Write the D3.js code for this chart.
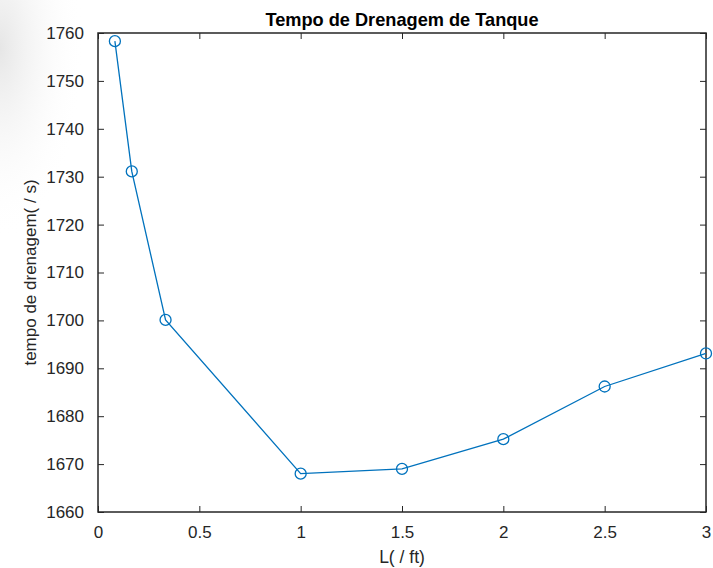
<!DOCTYPE html>
<html>
<head>
<meta charset="utf-8">
<script src="https://cdn.jsdelivr.net/npm/d3@7"></script>
<style>
  body { margin: 0; background: #fff; }
  svg { display: block; }
</style>
</head>
<body>
<svg width="713" height="568"></svg>
<script>
// comprimento L (ft) e tempo de drenagem (s)
var lengths = [1/12, 1/6, 1/3, 1, 1.5, 2, 2.5, 3];
var drainTimes = [1758.3, 1731.1, 1700.1, 1668.0, 1669.0, 1675.2, 1686.2, 1693.1];
var xTicks = [0, 0.5, 1, 1.5, 2, 2.5, 3];
var yTicks = [1660, 1670, 1680, 1690, 1700, 1710, 1720, 1730, 1740, 1750, 1760];

var svg = d3.select("svg"),
    margin = {top: 33, right: 7, bottom: 56, left: 98},
    width = +svg.attr("width") - margin.left - margin.right,
    height = +svg.attr("height") - margin.top - margin.bottom;

var font = "'Liberation Sans', Arial, sans-serif",
    ink = "#262626",
    lineColor = "#0072BD";

// faint grey shade at the top left, as in the screenshot
var defs = svg.append("defs");
var grad = defs.append("radialGradient")
    .attr("id", "shade")
    .attr("cx", "0").attr("cy", "0.15").attr("r", "0.6");
grad.append("stop").attr("offset", "0").attr("stop-color", "#e6e6e6");
grad.append("stop").attr("offset", "1").attr("stop-color", "#ffffff").attr("stop-opacity", 0);
svg.append("rect")
    .attr("x", 0).attr("y", 0)
    .attr("width", 140).attr("height", 320)
    .attr("fill", "url(#shade)");

var x = d3.scaleLinear().domain([0, 3]).range([0, width]);
var y = d3.scaleLinear().domain([1660, 1760]).range([height, 0]);

var g = svg.append("g")
    .attr("transform", "translate(" + margin.left + "," + margin.top + ")");

g.append("rect")
    .attr("width", width)
    .attr("height", height)
    .attr("fill", "#fff");

function styleAxis(sel) {
  sel.select(".domain").remove();
  sel.selectAll("line").attr("stroke", ink).attr("stroke-width", 1);
  sel.selectAll("text")
      .attr("fill", ink)
      .attr("font-family", font)
      .attr("font-size", 17);
}

// eixos com marcas para dentro (estilo MATLAB)
g.append("g")
    .attr("transform", "translate(0," + height + ")")
    .call(d3.axisBottom(x).tickValues(xTicks).tickSize(-6).tickPadding(14)
        .tickFormat(d3.format("")))
    .call(styleAxis);

g.append("g")
    .call(d3.axisTop(x).tickValues(xTicks).tickSize(-6).tickFormat(""))
    .call(styleAxis);

g.append("g")
    .call(d3.axisLeft(y).tickValues(yTicks).tickSize(-6).tickPadding(14)
        .tickFormat(d3.format("d")))
    .call(styleAxis);

g.append("g")
    .attr("transform", "translate(" + width + ",0)")
    .call(d3.axisRight(y).tickValues(yTicks).tickSize(-6).tickFormat(""))
    .call(styleAxis);

g.append("rect")
    .attr("width", width)
    .attr("height", height)
    .attr("fill", "none")
    .attr("stroke", ink)
    .attr("stroke-width", 1.5);

var pts = lengths.map(function(d, i) { return [d, drainTimes[i]]; });

g.append("path")
    .datum(pts)
    .attr("fill", "none")
    .attr("stroke", lineColor)
    .attr("stroke-width", 1.3)
    .attr("d", d3.line()
        .x(function(d) { return x(d[0]); })
        .y(function(d) { return y(d[1]); }));

g.selectAll("circle")
    .data(pts)
    .enter().append("circle")
      .attr("cx", function(d) { return x(d[0]); })
      .attr("cy", function(d) { return y(d[1]); })
      .attr("r", 5.5)
      .attr("fill", "none")
      .attr("stroke", lineColor)
      .attr("stroke-width", 1.3);

svg.append("text")
    .attr("x", margin.left + width / 2)
    .attr("y", 26)
    .attr("text-anchor", "middle")
    .attr("font-family", font)
    .attr("font-weight", "bold")
    .attr("font-size", 18.2)
    .attr("fill", "#000")
    .text("Tempo de Drenagem de Tanque");

svg.append("text")
    .attr("x", margin.left + width / 2)
    .attr("y", 563)
    .attr("text-anchor", "middle")
    .attr("font-family", font)
    .attr("font-size", 17.5)
    .attr("fill", ink)
    .text("L( / ft)");

svg.append("text")
    .attr("transform", "translate(36," + (margin.top + height / 2) + ") rotate(-90)")
    .attr("text-anchor", "middle")
    .attr("font-family", font)
    .attr("font-size", 17)
    .attr("fill", ink)
    .text("tempo de drenagem( / s)");
</script>
</body>
</html>
